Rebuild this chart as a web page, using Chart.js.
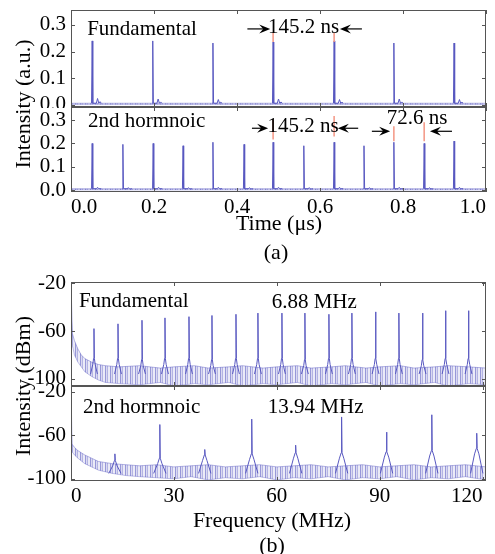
<!DOCTYPE html>
<html>
<head>
<meta charset="utf-8">
<script src="https://cdn.jsdelivr.net/npm/chart.js@4.4.1/dist/chart.umd.min.js"></script>
<style>
  body { margin: 0; background: #fff; width: 495px; height: 554px; position: relative; overflow: hidden; font-family: "Liberation Serif", serif; }
  canvas { position: absolute; left: 0; }
  .lbl { position: absolute; font-size: 22px; color: #000; white-space: nowrap; transform: translate(-50%, -50%); }
  .rot { transform: translate(-50%, -50%) rotate(-90deg); }
</style>
</head>
<body>
<canvas id="a1" width="495" height="108" style="top:0px"></canvas>
<canvas id="a2" width="495" height="140" style="top:97px"></canvas>
<canvas id="b1" width="495" height="117" style="top:270px"></canvas>
<canvas id="b2" width="495" height="140" style="top:376px"></canvas>

<div class="lbl rot" style="left:23px; top:104px">Intensity (a.u.)</div>
<div class="lbl" style="left:279px; top:223px">Time (μs)</div>
<div class="lbl" style="left:276px; top:252px">(a)</div>
<div class="lbl rot" style="left:23px; top:386px">Intensity (dBm)</div>
<div class="lbl" style="left:272px; top:520px">Frequency (MHz)</div>
<div class="lbl" style="left:272px; top:545px">(b)</div>

<script>
// ---- tick labels ----
const timeTicks = [0, 0.2, 0.4, 0.6, 0.8, 1.0];
const levelTicks = [0, 0.1, 0.2, 0.3];
const freqTicks = [0, 30, 60, 90, 120];
const dbmTicks = [-100, -60, -20];

// ---- (a) pulse trains: time (us), intensity (a.u.) ----
const fundPulseT = [0.051, 0.197, 0.342, 0.487, 0.634, 0.778, 0.923];
const fundPulseH = [0.240, 0.240, 0.232, 0.236, 0.240, 0.232, 0.232];
const fundEchoH  = [0.024, 0.022, 0.020, 0.022, 0.020, 0.022, 0.020];
const harmPulseT = [0.051, 0.125, 0.198, 0.270, 0.342, 0.417, 0.487, 0.561, 0.634, 0.706, 0.778, 0.851, 0.923];
const harmPulseH = [0.200, 0.196, 0.200, 0.190, 0.205, 0.196, 0.205, 0.190, 0.205, 0.190, 0.205, 0.200, 0.210];
const harmEchoH  = [0.012, 0.010, 0.012, 0.010, 0.012, 0.010, 0.012, 0.010, 0.012, 0.010, 0.012, 0.010, 0.012];
const timeFloorLow = 0.001;
const timeFloorHigh = 0.006;

// red period marks
const fundMarkT  = [0.487, 0.634];
const fundMarkLo = [0.236, 0.236];
const fundMarkHi = [0.270, 0.270];
const harmMarkT  = [0.487, 0.634, 0.778, 0.851];
const harmMarkLo = [0.217, 0.230, 0.209, 0.209];
const harmMarkHi = [0.304, 0.317, 0.274, 0.291];

// ---- (b) RF spectra: frequency (MHz), level (dBm) ----
const fundPeakF  = [6.7, 13.7, 20.7, 27.4, 34.4, 41.1, 48.1, 54.5, 61.5, 68.2, 75.2, 81.9, 88.8, 95.6, 102.5, 109.2, 115.9];
const fundPeakDb = [-58, -54, -51, -49, -48, -47, -46, -45, -45, -45, -46, -45, -44, -45, -45, -43, -43];
const fundSkirtDb = [-88, -88, -89, -88, -88, -89, -88, -88, -88, -89, -88, -88, -88, -88, -89, -88, -88];
const fundFloorDb = -96;
const fundBandF    = [0, 0.4, 1, 2, 3, 4, 6, 8, 10, 14, 20, 26, 30, 36, 40, 46, 50, 56, 60, 66, 70, 76, 80, 86, 90, 96, 100, 106, 110, 116, 121];
const fundBandHigh = [-19, -62, -68, -75, -80, -83, -86, -88, -89, -90, -89, -91, -90, -89, -91, -90, -89, -91, -90, -89, -91, -90, -89, -91, -90, -89, -91, -90, -89, -90, -91];
const fundBandLow  = [-40, -72, -80, -86, -90, -94, -98, -101, -103, -104, -105, -103, -106, -104, -105, -103, -106, -104, -105, -103, -106, -104, -105, -103, -106, -104, -105, -103, -106, -104, -105];

const harmPeakF  = [12.8, 25.9, 39.0, 52.7, 65.5, 78.9, 92.0, 105.2, 118.3];
const harmPeakDb = [-77, -50, -73, -45, -69, -43, -57, -41, -58];
const harmSkirtDb = [-88, -86, -83, -82, -81, -81, -80, -79, -77];
const harmFloorDb = -95;
const harmBandF    = [0, 0.3, 1, 2, 4, 6, 8, 12, 16, 20, 25, 30, 35, 40, 45, 50, 55, 60, 65, 70, 75, 80, 85, 90, 95, 100, 105, 110, 115, 121];
const harmBandHigh = [-14, -68, -71, -74, -78, -81, -84, -86, -87, -88, -87, -89, -88, -87, -89, -88, -87, -89, -88, -87, -89, -88, -87, -89, -88, -87, -89, -88, -87, -89];
const harmBandLow  = [-40, -75, -78, -81, -86, -89, -92, -95, -97, -98, -99, -100, -98, -101, -99, -100, -98, -101, -99, -100, -98, -101, -99, -100, -98, -101, -99, -100, -98, -101];

// ---- styles ----
const LINE = 'rgb(88, 88, 192)';
const MARK = 'rgb(244, 150, 132)';
const FONT = { family: 'Liberation Serif', size: 21 };

// vertical hatch that reads like a dense noise trace
function noiseFill() {
    const c = document.createElement('canvas');
    c.width = 5; c.height = 1;
    const g = c.getContext('2d');
    g.fillStyle = 'rgba(88,88,192,0.62)'; g.fillRect(0, 0, 1, 1);
    g.fillStyle = 'rgba(88,88,192,0.22)'; g.fillRect(1, 0, 1, 1);
    g.fillStyle = 'rgba(88,88,192,0.45)'; g.fillRect(2, 0, 1, 1);
    g.fillStyle = 'rgba(88,88,192,0.12)'; g.fillRect(3, 0, 2, 1);
    return g.createPattern(c, 'repeat');
}

// pulse spikes with a small ringing bump after each one
function pulsePoints(aT, aH, aEcho) {
    const pts = [];
    aT.forEach((t, i) => {
        pts.push({ x: t - 0.0015, y: timeFloorHigh }, { x: t, y: aH[i] }, { x: t + 0.0015, y: timeFloorHigh },
            { x: t + 0.010, y: timeFloorHigh }, { x: t + 0.013, y: aEcho[i] }, { x: t + 0.016, y: timeFloorHigh },
            { x: t + 0.019, y: aEcho[i] * 0.5 }, { x: t + 0.022, y: timeFloorHigh }, { x: t + 0.022, y: null });
    });
    return pts;
}

function peakPoints(aF, aDb, aSkirt, floor, w) {
    const pts = [];
    aF.forEach((f, i) => {
        pts.push({ x: f - w, y: floor }, { x: f - w * 0.35, y: aSkirt[i] }, { x: f - 0.12, y: aSkirt[i] + 5 },
            { x: f, y: aDb[i] }, { x: f + 0.12, y: aSkirt[i] + 5 }, { x: f + w * 0.35, y: aSkirt[i] },
            { x: f + w, y: floor }, { x: f + w, y: null });
    });
    return pts;
}

function markPoints(aT, aLo, aHi) {
    const pts = [];
    aT.forEach((t, i) => pts.push({ x: t, y: aLo[i] }, { x: t, y: aHi[i] }, { x: t, y: null }));
    return pts;
}

function xy(aX, aY) { return aX.map((v, i) => ({ x: v, y: aY[i] })); }

function bandSets(aX, aLow, aHigh) {
    return [
        { data: xy(aX, aLow), borderColor: 'rgba(88,88,192,0.45)', borderWidth: 0.8, fill: false },
        { data: xy(aX, aHigh), borderColor: 'rgba(88,88,192,0.55)', borderWidth: 0.8, fill: '-1', backgroundColor: noiseFill() }
    ];
}

// frame, inward ticks, in-plot texts and arrows
const framePlugin = {
    id: 'frame',
    afterDatasetsDraw(chart, args, opts) {
        const { ctx, chartArea: a } = chart;
        const x = chart.scales.x, y = chart.scales.y;
        ctx.save();
        ctx.strokeStyle = '#555';
        ctx.lineWidth = 1;
        ctx.strokeRect(a.left + 0.5, a.top + 0.5, a.right - a.left - 1, a.bottom - a.top - 1);
        ctx.beginPath();
        opts.xTicks.forEach(v => {
            const px = Math.round(x.getPixelForValue(v)) + 0.5;
            ctx.moveTo(px, a.top); ctx.lineTo(px, a.top + 4);
            ctx.moveTo(px, a.bottom); ctx.lineTo(px, a.bottom - 4);
        });
        opts.yTicks.forEach(v => {
            const py = Math.round(y.getPixelForValue(v)) + 0.5;
            ctx.moveTo(a.left, py); ctx.lineTo(a.left + 4, py);
            ctx.moveTo(a.right, py); ctx.lineTo(a.right - 4, py);
        });
        ctx.stroke();

        ctx.font = '21px "Liberation Serif"';
        ctx.fillStyle = '#000';
        ctx.textBaseline = 'alphabetic';
        (opts.texts || []).forEach(t => {
            ctx.textAlign = t.align || 'left';
            ctx.fillText(t.text, x.getPixelForValue(t.x), y.getPixelForValue(t.y));
        });

        ctx.strokeStyle = '#000';
        ctx.lineWidth = 1.2;
        (opts.arrows || []).forEach(r => {
            const x0 = x.getPixelForValue(r.from), x1 = x.getPixelForValue(r.to), py = y.getPixelForValue(r.y);
            const d = Math.sign(x1 - x0);
            ctx.beginPath();
            ctx.moveTo(x0, py); ctx.lineTo(x1 - d * 5, py);
            ctx.stroke();
            ctx.beginPath();
            ctx.moveTo(x1, py);
            ctx.lineTo(x1 - d * 11, py - 4.5);
            ctx.lineTo(x1 - d * 7, py);
            ctx.lineTo(x1 - d * 11, py + 4.5);
            ctx.closePath();
            ctx.fill();
        });
        ctx.restore();
    }
};

function makeChart(id, o) {
    return new Chart(document.getElementById(id), {
        type: 'line',
        data: { datasets: o.datasets },
        options: {
            responsive: false,
            animation: false,
            events: [],
            elements: { point: { radius: 0 }, line: { tension: 0 } },
            datasets: { line: { borderColor: LINE, borderWidth: 1, spanGaps: false, fill: false } },
            layout: { padding: { left: 0, right: 9, top: o.padTop, bottom: o.padBottom } },
            plugins: {
                legend: { display: false },
                tooltip: { enabled: false },
                frame: { xTicks: o.xTicks, yTicks: o.yTicks, texts: o.texts, arrows: o.arrows }
            },
            scales: {
                x: {
                    type: 'linear', min: o.xMin, max: o.xMax, display: o.showX,
                    grid: { display: false, drawTicks: false }, border: { display: false },
                    afterBuildTicks: s => { s.ticks = o.xTicks.map(v => ({ value: v })); },
                    afterFit: s => { s.height = o.showX ? o.xHeight : 0; s.paddingLeft = 0; s.paddingRight = 0; },
                    ticks: { font: FONT, color: '#000', padding: 3, align: 'inner', maxRotation: 0, autoSkip: false, callback: o.xFmt }
                },
                y: {
                    type: 'linear', min: o.yMin, max: o.yMax,
                    grid: { display: false, drawTicks: false }, border: { display: false },
                    afterBuildTicks: s => { s.ticks = o.yTicks.map(v => ({ value: v })); },
                    afterFit: s => { s.width = 71; s.paddingTop = 0; s.paddingBottom = 0; },
                    ticks: { font: FONT, color: '#000', padding: 5, autoSkip: false, callback: o.yFmt }
                }
            }
        },
        plugins: [framePlugin]
    });
}

const fmt1 = v => Number(v).toFixed(1);
const fmt0 = v => String(v);

makeChart('a1', {
    padTop: 10, padBottom: 1, showX: false,
    xMin: 0, xMax: 1.0, yMin: -0.008, yMax: 0.356,
    xTicks: timeTicks, yTicks: levelTicks, xFmt: fmt1, yFmt: fmt1,
    datasets: [
        { data: markPoints(fundMarkT, fundMarkLo, fundMarkHi), borderColor: MARK, borderWidth: 1.5 },
        { data: pulsePoints(fundPulseT, fundPulseH, fundEchoH) },
        ...bandSets([0, 1.0], [timeFloorLow, timeFloorLow], [timeFloorHigh, timeFloorHigh])
    ],
    texts: [
        { text: 'Fundamental', x: 0.039, y: 0.262 },
        { text: '145.2 ns', x: 0.5605, y: 0.270, align: 'center' }
    ],
    arrows: [
        { from: 0.425, to: 0.480, y: 0.285 },
        { from: 0.701, to: 0.648, y: 0.285 }
    ]
});

makeChart('a2', {
    padTop: 10, padBottom: 0, showX: true, xHeight: 45,
    xMin: 0, xMax: 1.0, yMin: -0.008, yMax: 0.356,
    xTicks: timeTicks, yTicks: levelTicks, xFmt: fmt1, yFmt: fmt1,
    datasets: [
        { data: markPoints(harmMarkT, harmMarkLo, harmMarkHi), borderColor: MARK, borderWidth: 1.5 },
        { data: pulsePoints(harmPulseT, harmPulseH, harmEchoH) },
        ...bandSets([0, 1.0], [timeFloorLow, timeFloorLow], [timeFloorHigh, timeFloorHigh])
    ],
    texts: [
        { text: '2nd hormnoic', x: 0.041, y: 0.270 },
        { text: '145.2 ns', x: 0.559, y: 0.248, align: 'center' },
        { text: '72.6 ns', x: 0.834, y: 0.283, align: 'center' }
    ],
    arrows: [
        { from: 0.436, to: 0.475, y: 0.265 },
        { from: 0.692, to: 0.643, y: 0.265 },
        { from: 0.725, to: 0.769, y: 0.252 },
        { from: 0.918, to: 0.865, y: 0.252 }
    ]
});

makeChart('b1', {
    padTop: 12, padBottom: 1, showX: false,
    xMin: 0, xMax: 121, yMin: -106, yMax: -19,
    xTicks: freqTicks, yTicks: dbmTicks, xFmt: fmt0, yFmt: fmt0,
    datasets: [
        { data: peakPoints(fundPeakF, fundPeakDb, fundSkirtDb, fundFloorDb, 1.0) },
        ...bandSets(fundBandF, fundBandLow, fundBandHigh)
    ],
    texts: [
        { text: 'Fundamental', x: 2.3, y: -40 },
        { text: '6.88 MHz', x: 58.5, y: -40.8 }
    ]
});

makeChart('b2', {
    padTop: 10, padBottom: 0, showX: true, xHeight: 35,
    xMin: 0, xMax: 121, yMin: -102, yMax: -14.5,
    xTicks: freqTicks, yTicks: dbmTicks, xFmt: fmt0, yFmt: fmt0,
    datasets: [
        { data: peakPoints(harmPeakF, harmPeakDb, harmSkirtDb, harmFloorDb, 1.8) },
        ...bandSets(harmBandF, harmBandLow, harmBandHigh)
    ],
    texts: [
        { text: '2nd hormnoic', x: 3.5, y: -39.4 },
        { text: '13.94 MHz', x: 57.4, y: -39.4 }
    ]
});
</script>
</body>
</html>
